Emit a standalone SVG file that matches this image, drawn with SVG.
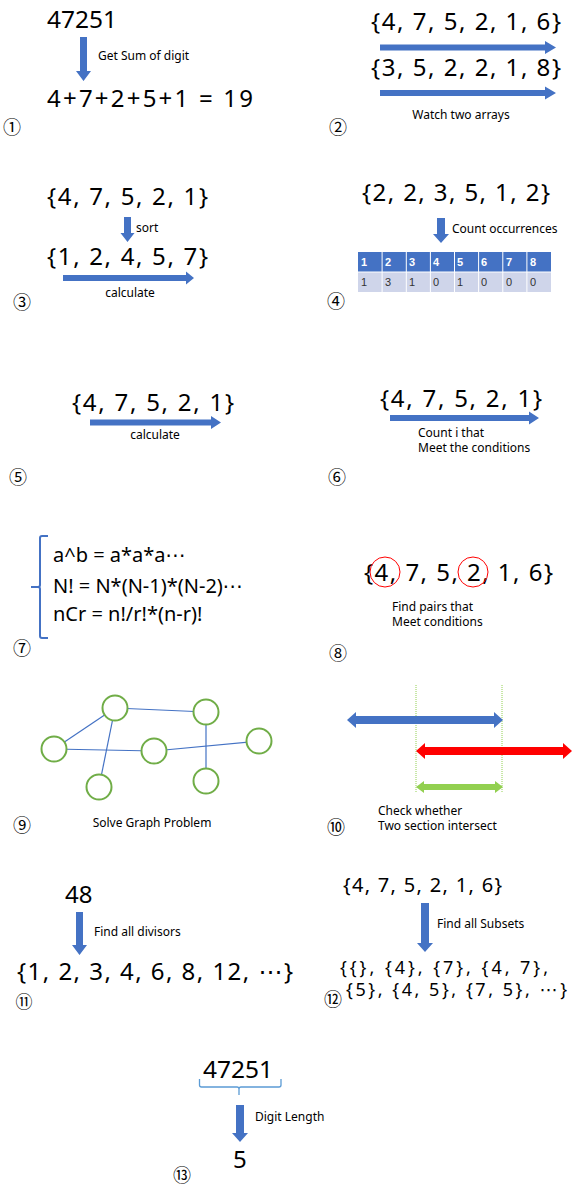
<svg xmlns="http://www.w3.org/2000/svg" width="576" height="1187" viewBox="0 0 576 1187">
<style>
.big{font-family:"Noto Sans","DejaVu Sans",sans-serif;font-size:24px;fill:#000}
.mid{font-family:"Noto Sans","DejaVu Sans",sans-serif;font-size:20px;fill:#000}
.sub{font-family:"Noto Sans","DejaVu Sans",sans-serif;font-size:18px;fill:#000}
.lbl{font-family:"Noto Sans","DejaVu Sans",sans-serif;font-size:12px;fill:#000}
.num{font-family:"Noto Sans CJK JP","Noto Sans",sans-serif;font-size:18px;fill:#000;text-anchor:middle}
.arr{fill:#4472C4}
.th{font-family:"Liberation Sans",sans-serif;font-size:11px;font-weight:bold;fill:#fff}
.td{font-family:"Liberation Sans",sans-serif;font-size:11px;fill:#333}
.edge{stroke:#4472C4;stroke-width:1.2;fill:none}
.gn{fill:#fff;stroke:#70AD47;stroke-width:2}
</style>
<rect width="576" height="1187" fill="#fff"/>

<g id="p1">
<text class="big" x="47" y="28" textLength="70" lengthAdjust="spacingAndGlyphs">47251</text>
<polygon class="arr" points="80,37 87,37 87,71 91,71 83.5,81 76,71 80,71"/>
<text class="lbl" x="98" y="60">Get Sum of digit</text>
<text class="big" x="47" y="107" textLength="206" lengthAdjust="spacing">4+7+2+5+1 = 19</text>
<text class="num" x="12" y="134">①</text>
</g>

<g id="p2">
<text class="big" x="371" y="30" textLength="190" lengthAdjust="spacing">{4, 7, 5, 2, 1, 6}</text>
<polygon class="arr" points="380,44.5 545,44.5 545,41 556,47.5 545,54 545,50.5 380,50.5"/>
<text class="big" x="371" y="76" textLength="190" lengthAdjust="spacing">{3, 5, 2, 2, 1, 8}</text>
<polygon class="arr" points="380,90 545,90 545,86.5 556,93 545,99.5 545,96 380,96"/>
<text class="lbl" x="461" y="119" text-anchor="middle">Watch two arrays</text>
<text class="num" x="338" y="134">②</text>
</g>

<g id="p3">
<text class="big" x="47" y="205" textLength="161" lengthAdjust="spacing">{4, 7, 5, 2, 1}</text>
<polygon class="arr" points="124,217 131,217 131,233 134.5,233 127.5,242 120.5,233 124,233"/>
<text class="lbl" x="136" y="232">sort</text>
<text class="big" x="47" y="265" textLength="161" lengthAdjust="spacing">{1, 2, 4, 5, 7}</text>
<polygon class="arr" points="63,275 186,275 186,271.5 194,278 186,284.5 186,281 63,281"/>
<text class="lbl" x="130" y="297" text-anchor="middle">calculate</text>
<text class="num" x="22" y="309">③</text>
</g>

<g id="p4">
<text class="big" x="362" y="201" textLength="188" lengthAdjust="spacing">{2, 2, 3, 5, 1, 2}</text>
<polygon class="arr" points="437,218 445,218 445,234 449,234 441,243 433,234 437,234"/>
<text class="lbl" x="452" y="233">Count occurrences</text>
<g id="table">
<rect x="358" y="252" width="193" height="20" fill="#4472C4"/>
<rect x="358" y="272" width="193" height="20" fill="#CFD5EA"/>
<g stroke="#fff" stroke-width="1">
<line x1="358" y1="272" x2="551" y2="272"/>
<line x1="382.1" y1="252" x2="382.1" y2="292"/>
<line x1="406.3" y1="252" x2="406.3" y2="292"/>
<line x1="430.4" y1="252" x2="430.4" y2="292"/>
<line x1="454.5" y1="252" x2="454.5" y2="292"/>
<line x1="478.6" y1="252" x2="478.6" y2="292"/>
<line x1="502.8" y1="252" x2="502.8" y2="292"/>
<line x1="526.9" y1="252" x2="526.9" y2="292"/>
</g>
<text class="th" x="361" y="266">1</text><text class="th" x="385" y="266">2</text><text class="th" x="409" y="266">3</text><text class="th" x="433" y="266">4</text><text class="th" x="457" y="266">5</text><text class="th" x="481" y="266">6</text><text class="th" x="506" y="266">7</text><text class="th" x="530" y="266">8</text>
<text class="td" x="361" y="286">1</text><text class="td" x="385" y="286">3</text><text class="td" x="409" y="286">1</text><text class="td" x="433" y="286">0</text><text class="td" x="457" y="286">1</text><text class="td" x="481" y="286">0</text><text class="td" x="506" y="286">0</text><text class="td" x="530" y="286">0</text>
</g>
<text class="num" x="336" y="308">④</text>
</g>

<g id="p5">
<text class="big" x="72" y="411" textLength="162" lengthAdjust="spacing">{4, 7, 5, 2, 1}</text>
<polygon class="arr" points="90,419.5 211,419.5 211,416 221,422.5 211,429 211,425.5 90,425.5"/>
<text class="lbl" x="155" y="439" text-anchor="middle">calculate</text>
<text class="num" x="18" y="484">⑤</text>
</g>

<g id="p6">
<text class="big" x="380" y="407" textLength="162" lengthAdjust="spacing">{4, 7, 5, 2, 1}</text>
<polygon class="arr" points="390,415 529,415 529,411.5 539,418 529,424.5 529,421 390,421"/>
<text class="lbl" x="418" y="437">Count i that</text>
<text class="lbl" x="418" y="452">Meet the conditions</text>
<text class="num" x="337" y="484">⑥</text>
</g>

<g id="p7">
<path d="M48,536 H42 Q40,536 40,538 V585 Q40,587 38,587 H31 M38,587 Q40,587 40,589 V636 Q40,638 42,638 H48" fill="none" stroke="#4472C4" stroke-width="2"/>
<text class="mid" x="53" y="562">a^b = a*a*a⋯</text>
<text class="mid" x="53" y="593">N! = N*(N-1)*(N-2)⋯</text>
<text class="mid" x="53" y="621">nCr = n!/r!*(n-r)!</text>
<text class="num" x="22" y="655">⑦</text>
</g>

<g id="p8">
<text class="big" x="364" y="581" textLength="189" lengthAdjust="spacing">{4, 7, 5, 2, 1, 6}</text>
<circle cx="385" cy="572" r="15" fill="none" stroke="#FF0000" stroke-width="1"/>
<circle cx="473" cy="572" r="15" fill="none" stroke="#FF0000" stroke-width="1"/>
<text class="lbl" x="392" y="611">Find pairs that</text>
<text class="lbl" x="392" y="626">Meet conditions</text>
<text class="num" x="338" y="660">⑧</text>
</g>

<g id="connectors">
<line class="edge" x1="115" y1="708" x2="206" y2="712"/>
<line class="edge" x1="115" y1="708" x2="54" y2="749"/>
<line class="edge" x1="115" y1="708" x2="99" y2="787"/>
<line class="edge" x1="54" y1="749" x2="154" y2="751"/>
<line class="edge" x1="154" y1="751" x2="259" y2="741"/>
<line class="edge" x1="206" y1="712" x2="206" y2="781"/>
</g>

<g id="p9">
<circle id="nA" class="gn" cx="115" cy="708" r="12.5"/>
<circle id="nB" class="gn" cx="206" cy="712" r="12.5"/>
<circle id="nC" class="gn" cx="54" cy="749" r="12.5"/>
<circle id="nD" class="gn" cx="154" cy="751" r="12.5"/>
<circle id="nE" class="gn" cx="259" cy="741" r="12.5"/>
<circle id="nF" class="gn" cx="99" cy="787" r="12.5"/>
<circle id="nG" class="gn" cx="206" cy="781" r="12.5"/>
<text class="lbl" x="152" y="827" text-anchor="middle">Solve Graph Problem</text>
<text class="num" x="22" y="832">⑨</text>
</g>

<g id="p10">
<line x1="416" y1="685" x2="416" y2="793" stroke="#92D050" stroke-width="1" stroke-dasharray="1,1"/>
<line x1="502" y1="685" x2="502" y2="793" stroke="#92D050" stroke-width="1" stroke-dasharray="1,1"/>
<polygon fill="#4472C4" points="347,720 356,712 356,716 494,716 494,712 503,720 494,728 494,724 356,724 356,728"/>
<polygon fill="#FF0000" points="416,751 425,743 425,747 563,747 563,743 572,751 563,759 563,755 425,755 425,759"/>
<polygon fill="#92D050" points="416,787 424,781 424,784 495,784 495,781 503,787 495,793 495,790 424,790 424,793"/>
<text class="lbl" x="378" y="815">Check whether</text>
<text class="lbl" x="378" y="830">Two section intersect</text>
<text class="num" x="336" y="834">⑩</text>
</g>

<g id="p11">
<text class="big" x="65" y="903">48</text>
<polygon class="arr" points="76,912 83,912 83,945 87,945 79.5,955 72,945 76,945"/>
<text class="lbl" x="94" y="936">Find all divisors</text>
<text class="big" x="17" y="980" textLength="276" lengthAdjust="spacing">{1, 2, 3, 4, 6, 8, 12, ⋯}</text>
<text class="num" x="24" y="1008" style="font-size:17px">⑪</text>
</g>

<g id="p12">
<text class="mid" x="343" y="892" textLength="159" lengthAdjust="spacing">{4, 7, 5, 2, 1, 6}</text>
<polygon class="arr" points="421,903 429,903 429,943 433,943 425,952 417,943 421,943"/>
<text class="lbl" x="437" y="928">Find all Subsets</text>
<text class="sub" x="340" y="974" textLength="208" lengthAdjust="spacing">{{}, {4}, {7}, {4, 7},</text>
<text class="sub" x="346" y="996" textLength="221" lengthAdjust="spacing">{5}, {4, 5}, {7, 5}, ⋯}</text>
<text class="num" x="333" y="1006">⑫</text>
</g>

<g id="p13">
<text class="big" x="203" y="1078" textLength="70" lengthAdjust="spacingAndGlyphs">47251</text>
<path d="M199.5,1079 V1085 Q199.5,1087 201.5,1087 H237 Q239,1087 239,1089 V1095 M239,1089 Q239,1087 241,1087 H279 Q281,1087 281,1085 V1079" fill="none" stroke="#5B9BD5" stroke-width="1.3"/>
<polygon class="arr" points="236,1105 244,1105 244,1133 248,1133 240,1142 232,1133 236,1133"/>
<text class="lbl" x="255" y="1121">Digit Length</text>
<text class="big" x="233" y="1168">5</text>
<text class="num" x="182" y="1182">⑬</text>
</g>
</svg>
